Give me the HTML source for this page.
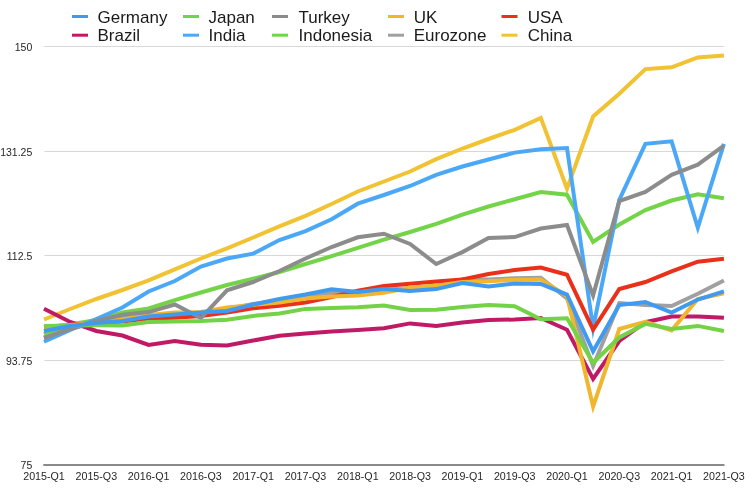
<!DOCTYPE html><html><head><meta charset="utf-8"><style>html,body{margin:0;padding:0;background:#fff;}svg{display:block;will-change:transform;font-family:"Liberation Sans",sans-serif;}</style></head><body>
<svg width="754" height="492" viewBox="0 0 754 492">
<rect width="754" height="492" fill="#fff"/>
<line x1="44.4" x2="724" y1="46.5" y2="46.5" stroke="#d8d8d8" stroke-width="1"/>
<text x="32.3" y="51.0" font-size="10.5" text-anchor="end" fill="#262626">150</text>
<line x1="44.4" x2="724" y1="151.5" y2="151.5" stroke="#d8d8d8" stroke-width="1"/>
<text x="32.3" y="156.0" font-size="10.5" text-anchor="end" fill="#262626">131.25</text>
<line x1="44.4" x2="724" y1="255.5" y2="255.5" stroke="#d8d8d8" stroke-width="1"/>
<text x="32.3" y="260.0" font-size="10.5" text-anchor="end" fill="#262626">112.5</text>
<line x1="44.4" x2="724" y1="360.5" y2="360.5" stroke="#d8d8d8" stroke-width="1"/>
<text x="32.3" y="365.0" font-size="10.5" text-anchor="end" fill="#262626">93.75</text>
<text x="32.3" y="469.1" font-size="10.5" text-anchor="end" fill="#262626">75</text>
<text x="44.0" y="480" font-size="10.7" text-anchor="middle" fill="#262626">2015-Q1</text>
<text x="96.3" y="480" font-size="10.7" text-anchor="middle" fill="#262626">2015-Q3</text>
<text x="148.6" y="480" font-size="10.7" text-anchor="middle" fill="#262626">2016-Q1</text>
<text x="200.9" y="480" font-size="10.7" text-anchor="middle" fill="#262626">2016-Q3</text>
<text x="253.2" y="480" font-size="10.7" text-anchor="middle" fill="#262626">2017-Q1</text>
<text x="305.5" y="480" font-size="10.7" text-anchor="middle" fill="#262626">2017-Q3</text>
<text x="357.8" y="480" font-size="10.7" text-anchor="middle" fill="#262626">2018-Q1</text>
<text x="410.1" y="480" font-size="10.7" text-anchor="middle" fill="#262626">2018-Q3</text>
<text x="462.4" y="480" font-size="10.7" text-anchor="middle" fill="#262626">2019-Q1</text>
<text x="514.7" y="480" font-size="10.7" text-anchor="middle" fill="#262626">2019-Q3</text>
<text x="567.0" y="480" font-size="10.7" text-anchor="middle" fill="#262626">2020-Q1</text>
<text x="619.3" y="480" font-size="10.7" text-anchor="middle" fill="#262626">2020-Q3</text>
<text x="671.6" y="480" font-size="10.7" text-anchor="middle" fill="#262626">2021-Q1</text>
<text x="723.9" y="480" font-size="10.7" text-anchor="middle" fill="#262626">2021-Q3</text>
<polyline points="44.0,319.5 70.2,309.0 96.3,299.0 122.4,290.0 148.6,280.3 174.8,269.3 200.9,258.5 227.0,248.3 253.2,237.5 279.4,226.4 305.5,215.8 331.6,204.0 357.8,191.5 383.9,181.5 410.1,171.5 436.2,159.2 462.4,148.5 488.5,139.0 514.7,129.8 540.8,117.9 567.0,188.6 593.1,116.5 619.3,93.7 645.4,69.1 671.6,67.3 697.8,57.4 723.9,55.6" fill="none" stroke="#f1c232" stroke-width="4" stroke-linejoin="miter" stroke-miterlimit="20" stroke-linecap="butt"/>
<polyline points="44.0,337.5 70.2,329.0 96.3,322.0 122.4,318.0 148.6,316.0 174.8,314.0 200.9,313.0 227.0,309.0 253.2,304.0 279.4,300.5 305.5,295.0 331.6,293.0 357.8,293.0 383.9,290.0 410.1,288.0 436.2,286.0 462.4,279.3 488.5,279.4 514.7,278.3 540.8,277.8 567.0,298.5 593.1,366.0 619.3,303.0 645.4,305.0 671.6,306.0 697.8,293.8 723.9,280.5" fill="none" stroke="#a0a0a0" stroke-width="4" stroke-linejoin="miter" stroke-miterlimit="20" stroke-linecap="butt"/>
<polyline points="44.0,334.0 70.2,324.5 96.3,320.0 122.4,312.5 148.6,308.5 174.8,300.2 200.9,292.5 227.0,285.0 253.2,278.8 279.4,272.0 305.5,264.0 331.6,256.2 357.8,247.9 383.9,239.7 410.1,232.0 436.2,223.8 462.4,214.6 488.5,206.5 514.7,199.2 540.8,192.0 567.0,194.7 593.1,242.0 619.3,224.5 645.4,210.0 671.6,200.5 697.8,194.3 723.9,198.2" fill="none" stroke="#72d446" stroke-width="4" stroke-linejoin="miter" stroke-miterlimit="20" stroke-linecap="butt"/>
<polyline points="44.0,341.8 70.2,330.0 96.3,319.0 122.4,307.5 148.6,291.5 174.8,281.0 200.9,266.6 227.0,258.5 253.2,253.6 279.4,240.0 305.5,231.1 331.6,219.2 357.8,203.7 383.9,195.0 410.1,186.0 436.2,174.8 462.4,166.5 488.5,159.5 514.7,152.6 540.8,149.3 567.0,148.0 593.1,328.0 619.3,200.0 645.4,143.8 671.6,141.3 697.8,227.8 723.9,143.8" fill="none" stroke="#4aa8f7" stroke-width="4" stroke-linejoin="miter" stroke-miterlimit="20" stroke-linecap="butt"/>
<polyline points="44.0,308.7 70.2,322.0 96.3,331.0 122.4,335.5 148.6,345.0 174.8,341.0 200.9,344.8 227.0,345.5 253.2,340.5 279.4,335.8 305.5,333.6 331.6,331.5 357.8,330.0 383.9,328.2 410.1,323.4 436.2,326.0 462.4,322.5 488.5,320.0 514.7,319.5 540.8,318.0 567.0,329.8 593.1,379.0 619.3,341.0 645.4,322.2 671.6,316.5 697.8,316.5 723.9,317.8" fill="none" stroke="#c01a66" stroke-width="4" stroke-linejoin="miter" stroke-miterlimit="20" stroke-linecap="butt"/>
<polyline points="44.0,327.0 70.2,325.0 96.3,323.0 122.4,321.5 148.6,318.6 174.8,317.8 200.9,316.0 227.0,312.5 253.2,308.3 279.4,305.8 305.5,302.5 331.6,297.0 357.8,290.8 383.9,286.0 410.1,283.8 436.2,281.6 462.4,279.5 488.5,274.0 514.7,270.0 540.8,267.5 567.0,274.7 593.1,329.7 619.3,289.0 645.4,282.0 671.6,271.4 697.8,261.7 723.9,258.8" fill="none" stroke="#e9301a" stroke-width="4" stroke-linejoin="miter" stroke-miterlimit="20" stroke-linecap="butt"/>
<polyline points="44.0,327.0 70.2,325.0 96.3,323.0 122.4,319.5 148.6,315.0 174.8,312.5 200.9,312.0 227.0,307.5 253.2,304.9 279.4,302.5 305.5,298.5 331.6,296.5 357.8,295.5 383.9,292.7 410.1,287.5 436.2,285.8 462.4,282.0 488.5,281.3 514.7,279.7 540.8,279.4 567.0,296.0 593.1,406.4 619.3,329.0 645.4,321.8 671.6,330.4 697.8,299.0 723.9,293.4" fill="none" stroke="#f0b72e" stroke-width="4" stroke-linejoin="miter" stroke-miterlimit="20" stroke-linecap="butt"/>
<polyline points="44.0,338.0 70.2,329.0 96.3,321.0 122.4,314.8 148.6,312.1 174.8,304.5 200.9,318.0 227.0,290.3 253.2,282.0 279.4,271.0 305.5,258.5 331.6,247.0 357.8,237.3 383.9,233.7 410.1,244.0 436.2,264.0 462.4,252.1 488.5,238.0 514.7,237.1 540.8,228.5 567.0,225.0 593.1,295.5 619.3,201.0 645.4,192.0 671.6,174.8 697.8,164.7 723.9,145.7" fill="none" stroke="#8c8c8c" stroke-width="4" stroke-linejoin="miter" stroke-miterlimit="20" stroke-linecap="butt"/>
<polyline points="44.0,326.0 70.2,325.5 96.3,325.2 122.4,325.4 148.6,322.0 174.8,321.5 200.9,321.0 227.0,319.8 253.2,315.9 279.4,313.5 305.5,308.9 331.6,307.9 357.8,307.3 383.9,305.6 410.1,310.0 436.2,309.7 462.4,307.0 488.5,305.1 514.7,306.2 540.8,319.2 567.0,318.2 593.1,362.7 619.3,337.5 645.4,323.9 671.6,329.0 697.8,325.9 723.9,331.0" fill="none" stroke="#74d246" stroke-width="4" stroke-linejoin="miter" stroke-miterlimit="20" stroke-linecap="butt"/>
<polyline points="44.0,331.0 70.2,326.0 96.3,323.0 122.4,321.0 148.6,316.5 174.8,314.5 200.9,312.5 227.0,311.0 253.2,304.5 279.4,299.0 305.5,294.5 331.6,289.2 357.8,292.0 383.9,288.9 410.1,291.0 436.2,289.1 462.4,283.0 488.5,286.5 514.7,283.5 540.8,284.0 567.0,294.6 593.1,351.3 619.3,305.0 645.4,302.0 671.6,312.5 697.8,299.5 723.9,291.3" fill="none" stroke="#409bf0" stroke-width="4" stroke-linejoin="miter" stroke-miterlimit="20" stroke-linecap="butt"/>
<line x1="43.3" x2="724.5" y1="465" y2="465" stroke="#8a8a8a" stroke-width="2"/>
<rect x="72" y="15.0" width="16" height="3" fill="#409bf0"/>
<text x="97.5" y="22.5" font-size="17" fill="#1a1a1a">Germany</text>
<rect x="183" y="15.0" width="16" height="3" fill="#74d246"/>
<text x="208.5" y="22.5" font-size="17" fill="#1a1a1a">Japan</text>
<rect x="272" y="15.0" width="16" height="3" fill="#8c8c8c"/>
<text x="298.5" y="22.5" font-size="17" fill="#1a1a1a">Turkey</text>
<rect x="388" y="15.0" width="16" height="3" fill="#f0b72e"/>
<text x="413.7" y="22.5" font-size="17" fill="#1a1a1a">UK</text>
<rect x="501.5" y="15.0" width="16" height="3" fill="#e9301a"/>
<text x="527.7" y="22.5" font-size="17" fill="#1a1a1a">USA</text>
<rect x="72" y="33.7" width="16" height="3" fill="#c01a66"/>
<text x="97.5" y="40.9" font-size="17" fill="#1a1a1a">Brazil</text>
<rect x="183" y="33.7" width="16" height="3" fill="#4aa8f7"/>
<text x="208.5" y="40.9" font-size="17" fill="#1a1a1a">India</text>
<rect x="272" y="33.7" width="16" height="3" fill="#72d446"/>
<text x="298.5" y="40.9" font-size="17" fill="#1a1a1a">Indonesia</text>
<rect x="388" y="33.7" width="16" height="3" fill="#a0a0a0"/>
<text x="413.7" y="40.9" font-size="17" fill="#1a1a1a">Eurozone</text>
<rect x="501.5" y="33.7" width="16" height="3" fill="#f1c232"/>
<text x="527.7" y="40.9" font-size="17" fill="#1a1a1a">China</text>
</svg></body></html>
